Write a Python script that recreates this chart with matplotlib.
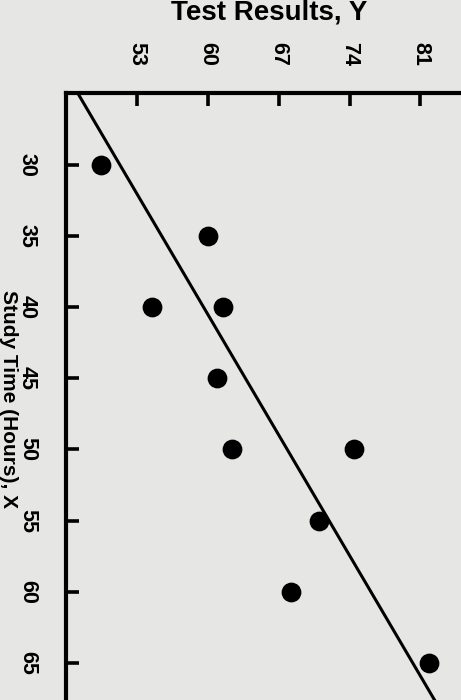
import matplotlib
matplotlib.use("Agg")
import matplotlib.pyplot as plt
import numpy as np

study_time = [30, 35, 40, 40, 45, 50, 50, 55, 60, 65]          # X, hours
test_results = [49.5, 60.0, 54.5, 61.5, 60.9, 62.4, 74.4, 71.0, 68.2, 81.8]  # Y
x_ticks = [30, 35, 40, 45, 50, 55, 60, 65]
y_ticks = [53, 60, 67, 74, 81]
fit_intercept = 26.55   # line drawn on the chart, Y = a + b*X
fit_slope = 0.826

bg = "#e6e6e4"
plt.rcParams["font.family"] = ["Liberation Sans", "DejaVu Sans"]

fig = plt.figure(figsize=(4.61, 7.0), dpi=100, facecolor=bg)
# the photo is the chart turned 90 degrees clockwise:
# X runs down the left side, Y runs along the top
ax = fig.add_axes([0.1425, 0.0, 0.8575, 0.8667], facecolor=bg)

ax.scatter(test_results, study_time, s=175, color="black", zorder=3)
line_x = np.array([25, 68])
ax.plot(fit_intercept + fit_slope * line_x, line_x, color="black", lw=2.2, zorder=2)

ax.set_xlim(46, 85)
ax.set_ylim(67.6, 25)

for side in ["right", "bottom"]:
    ax.spines[side].set_visible(False)
for side in ["left", "top"]:
    ax.spines[side].set_linewidth(3)

ax.xaxis.tick_top()
ax.set_xticks(y_ticks)
ax.set_yticks(x_ticks)
ax.tick_params(direction="in", length=9, width=2.6, pad=20, labelsize=15.5)
ax.set_xticklabels([str(t) for t in y_ticks], rotation=270, fontweight="bold")
ax.set_yticklabels([str(t) for t in x_ticks], rotation=270, fontweight="bold", va="center")

fig.text(0.583, 0.982, "Test Results, Y", ha="center", va="center",
         fontsize=20, fontweight="bold")
fig.text(0.019, 0.43, "Study Time (Hours), X", ha="center", va="center",
         rotation=270, fontsize=15, fontweight="bold")

fig.savefig("out.png", dpi=100, facecolor=bg)
